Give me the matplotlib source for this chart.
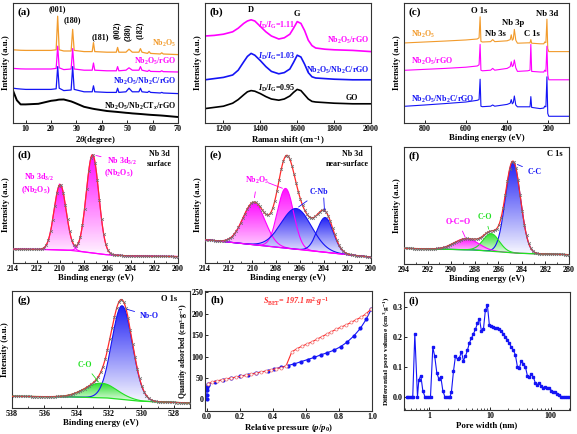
import numpy as np
import matplotlib
matplotlib.use('Agg')
import matplotlib.pyplot as plt
from matplotlib.patches import Polygon
from matplotlib.colors import LinearSegmentedColormap
from matplotlib.ticker import MultipleLocator, NullLocator, LogLocator, NullFormatter

# ---------------- data ----------------
# (a) XRD, arbitrary stacked intensity
xrd_x = [5, 6.5, 8, 10, 15, 20, 22.0, 22.6, 23.2, 25, 27.9, 28.5, 29.1, 33, 36.2, 36.7, 37.2, 42,
         45.7, 46.2, 46.7, 49.5, 50.7, 52, 54.6, 55.2, 55.8, 58, 58.6, 59.2, 63, 63.6, 64.2, 70]
xrd_nb2o5 = [61, 60.8, 60.6, 60.5, 60.5, 60.5, 61, 89, 61, 60, 60, 78, 60.5, 59.5, 59.5, 67, 59.5, 59,
             59, 63, 59, 59, 61.5, 59, 59, 62, 59, 58, 59.5, 58, 57.5, 58.5, 57.5, 57]
xrd_rgo = [45.5, 45.3, 45.1, 45, 45, 45, 45.5, 64, 46, 44.5, 45, 62, 45, 44, 44, 50, 44, 43.5,
           43.5, 47, 43.5, 44, 46, 44, 44, 47, 44, 43, 44, 43, 42.8, 43.5, 42.8, 42.5]
xrd_nb2c = [29, 28.6, 28.3, 28, 28, 28, 28.5, 47, 29, 27, 27.5, 47, 28, 26, 26, 31, 26, 25.5,
            25.5, 29, 25.5, 26, 29, 26, 26, 29, 26, 25.5, 26.5, 25.5, 25, 25.5, 25, 24.5]
xrd_ctx = [27, 19, 15.5, 15.5, 16, 18.5, 19, 19.3, 19.5, 19.6, 18, 17.5, 17, 13.5, 12, 11.8, 11.6, 10,
           9.3, 9.2, 9.1, 8.5, 8.3, 8, 7.6, 7.5, 7.4, 7, 6.9, 6.8, 6.3, 6.2, 6.1, 5]
hkl_labels = ['(001)', '(180)', '(181)', '(002)', '(380)', '(182)']
hkl_pos = [(22.4, 95), (28.5, 86), (39.3, 71.5), (45.9, 77), (50.3, 76), (54.9, 77)]

# (b) Raman
raman_x = [1100, 1150, 1200, 1250, 1280, 1310, 1330, 1350, 1370, 1400, 1430, 1460, 1500, 1530,
           1560, 1580, 1600, 1620, 1640, 1660, 1680, 1700, 1750, 1800, 1900, 2000]
raman_rgo = [72.5, 73, 74, 76, 79, 83, 85, 86, 85, 80.5, 76, 72.5, 70, 71, 74, 79, 84.5, 83, 77, 69,
             64.5, 62.5, 61.5, 61, 60.5, 59.5]
raman_nb2c = [36, 37, 38, 40, 44, 51, 55.5, 58, 56.5, 52, 47, 43, 41, 42, 45, 50.5, 56.5, 55, 49, 42,
              38.5, 37.5, 37, 36.5, 36, 36]
raman_go = [12, 13, 14, 16.5, 19.5, 23.5, 26, 27, 26.5, 24.5, 22, 20, 19, 20, 22.5, 25.5, 28, 27,
            23.5, 20, 18, 17.5, 17, 16.5, 16, 16]
idig_text = ['1.11', '1.03', '0.95']
idig_y = [81.5, 55.5, 28.5]

# (c) XPS survey
surv_x = [900, 800, 700, 600, 545, 536, 531, 527, 520, 480, 470, 460, 400, 385, 380, 375, 370, 365,
          358, 350, 300, 289, 285, 281, 240, 222, 218, 212, 207, 203, 198, 150, 100]
surv_nb2o5 = [66.7, 67.5, 68.3, 69.2, 70, 71, 88.5, 68, 67.5, 67.8, 69.5, 67.8, 68.5, 69.5, 73.5, 69,
              70, 78, 69, 66.5, 66.8, 66.8, 69.5, 66.5, 66, 66, 67.5, 67, 86.5, 62, 59.5, 59.5, 59.5]
surv_rgo = [43.9, 44.7, 45.5, 46.5, 47.5, 48.5, 65.5, 44, 43.5, 44, 45.5, 44, 45.5, 47, 51, 47, 48,
            52.5, 46, 43, 43.5, 44, 65.5, 43, 42.5, 42.5, 44, 43, 64, 40, 36, 36, 36]
surv_nb2c = [13.9, 15, 16.2, 17.5, 18.9, 19.5, 36.5, 14, 13.6, 14, 15, 14, 15.5, 16.5, 19.5, 16, 17,
             22.5, 15, 13.5, 13.5, 13.5, 22, 13, 12, 12.5, 14, 13.5, 38.5, 8, 5.6, 5.6, 5.6]
surv_peaks = ['O 1s', 'Nb 3s', 'Nb 3p', 'C 1s', 'Nb 3d']
surv_peak_pos = [(534, 93.5), (457, 74.5), (373, 83), (281, 74.5), (207, 90.5)]

# (d) Nb 3d surface fit
d_bg_x = [200, 204, 206, 208, 209, 211, 214]
d_bg_y = [5.5, 6, 7, 9.5, 10.8, 11.5, 11.9]
d_cen = [210.0, 207.25]
d_hgt = [56, 84]
d_fwhm = [1.2, 1.25]

# (e) Nb 3d near-surface fit
e_bg_x = [200, 207, 214]
e_bg_y = [5, 12.5, 20]
e_cen = [209.87, 207.2, 206.3, 203.86]
e_hgt = [35.8, 51, 34.8, 29.7]
e_fwhm = [2.2, 1.6, 3.0, 1.6]

# (f) C 1s fit
f_bg_x = [280, 282, 284, 286, 288, 290, 294]
f_bg_y = [8, 8.5, 9, 10.5, 12, 12.5, 13.4]
f_cen = [284.75, 286.6, 288.7]
f_hgt = [78, 15, 9.5]
f_fwhm = [1.5, 1.6, 2.4]

# (g) O 1s fit
g_bg_x = [527, 530, 532, 534, 538]
g_bg_y = [4.3, 5.7, 8.5, 9.4, 10]
g_cen = [531.2, 532.5]
g_hgt = [80, 12.5]
g_fwhm = [1.5, 2.3]

# (h) N2 isotherm
ads_p = [0.0, 0.001, 0.002, 0.004, 0.007, 0.01, 0.05, 0.1, 0.15, 0.2, 0.25, 0.3, 0.37, 0.41, 0.45,
         0.49, 0.53, 0.57, 0.61, 0.65, 0.69, 0.73, 0.77, 0.81, 0.85, 0.89, 0.93, 0.965, 0.995]
ads_q = [0, 10, 22, 30, 34, 36, 41, 46, 50, 54, 58, 62, 67, 71, 75, 79, 83, 88, 93, 98, 104, 109,
         115, 123, 134, 148, 166, 187, 210]
des_p = [0.995, 0.965, 0.935, 0.905, 0.875, 0.845, 0.815, 0.785, 0.755, 0.725, 0.695, 0.665, 0.635,
         0.605, 0.575, 0.545, 0.515, 0.48, 0.45, 0.42, 0.39, 0.36, 0.33, 0.3, 0.27, 0.24, 0.21, 0.18,
         0.15, 0.12, 0.09, 0.06, 0.03, 0.01]
des_q = [211, 200, 192, 186, 180, 174, 169, 164, 158, 152, 146, 140, 134, 129, 124, 118, 111, 78, 74,
         72, 69, 66, 64, 61, 59, 56, 54, 52, 50, 48, 45.5, 43, 40, 37]

# (i) pore size distribution
pore_w = [0.42, 0.45, 0.48, 0.51, 0.53, 0.573, 0.634, 0.667, 0.72, 0.776, 0.84, 0.9, 0.97, 1.04,
          1.135, 1.22, 1.32, 1.42, 1.54, 1.66, 1.79, 1.93, 2.08, 2.19, 2.3, 2.49, 2.68, 2.9, 3.12,
          3.37, 3.63, 3.92, 4.23, 4.56, 4.92, 5.31, 5.73, 6.18, 6.67, 7.19, 7.76, 8.37, 9.03, 9.74,
          10.5, 11.3, 12.2, 13.2, 14.2, 15.4, 16.6, 17.9, 19.3, 20.8, 22.5, 24.2, 26.1, 28.2, 30.4,
          32.8, 35.4, 38.2, 41.2, 44.5, 48, 51.8, 55.8, 60.3, 65, 70.2, 75.7, 81.7, 88.1, 95, 102.6,
          110.7, 119.4, 128.8, 139, 150, 162, 175, 188, 202]
pore_v = [0, 0, 0, 0, 0, 0.21, 0, 0.055, 0.07, 0.02, 0, 0, 0, 0, 0.165, 0.135, 0.08, 0.06, 0.065,
          0.02, 0, 0, 0, 0, 0.015, 0.085, 0.135, 0.125, 0.13, 0.15, 0.12, 0.135, 0.155, 0.18, 0.195,
          0.21, 0.225, 0.245, 0.26, 0.22, 0.225, 0.29, 0.305, 0.238, 0.237, 0.234, 0.23, 0.23, 0.225,
          0.218, 0.21, 0.2, 0.19, 0.178, 0.165, 0.155, 0.14, 0.1, 0.095, 0.12, 0.11, 0.1, 0.07, 0.065,
          0.075, 0.065, 0.045, 0.04, 0.047, 0.035, 0.03, 0.033, 0.028, 0.03, 0.02, 0.015, 0.015, 0.01,
          0.005, 0, 0, 0, 0, 0]

# ---------------- style ----------------
ORANGE = '#F29B2C'
MAG = '#FF00FF'
BLUE = '#1414F5'
GREEN = '#22E022'
RED = '#FF2A2A'
GRAY = '#707070'

plt.rcParams.update({
    'font.family': 'Liberation Serif', 'font.weight': 'bold', 'font.size': 5.6,
    'axes.labelweight': 'bold', 'axes.labelsize': 6.3, 'axes.linewidth': 0.8,
    'axes.edgecolor': '#333333',
    'mathtext.fontset': 'custom', 'mathtext.rm': 'Liberation Serif:bold',
    'mathtext.it': 'Liberation Serif:italic:bold', 'mathtext.bf': 'Liberation Serif:bold',
    'xtick.direction': 'in', 'ytick.direction': 'in',
    'xtick.major.size': 2.5, 'ytick.major.size': 2.5, 'xtick.minor.size': 1.5,
    'ytick.minor.size': 1.5, 'xtick.major.width': 0.6, 'ytick.major.width': 0.6,
    'xtick.minor.width': 0.5, 'ytick.minor.width': 0.5,
    'xtick.labelsize': 5.8, 'ytick.labelsize': 5.8,
    'xtick.major.pad': 1.5, 'ytick.major.pad': 1.2,
})

W, H = 577, 434
fig = plt.figure(figsize=(W / 100, H / 100), dpi=100)


def mk(l, r, t, b):
    return fig.add_axes([l / W, 1 - b / H, (r - l) / W, (b - t) / H])


def no_y(ax):
    ax.yaxis.set_major_locator(NullLocator())
    ax.set_ylabel('Intensity (a.u.)', labelpad=2)


def tag(ax, s):
    ax.text(0.03, 0.965, s, transform=ax.transAxes, fontsize=8, va='top', ha='left')


def grad_fill(ax, x, base, top, color):
    verts = np.column_stack([np.r_[x, x[::-1]], np.r_[top, base[::-1]]])
    poly = Polygon(verts, closed=True, facecolor='none', edgecolor='none')
    ax.add_patch(poly)
    cmap = LinearSegmentedColormap.from_list('g', ['#ffffff', color])
    grad = np.linspace(0.02, 1, 120).reshape(-1, 1)
    im = ax.imshow(grad, cmap=cmap, vmin=0, vmax=1, aspect='auto', origin='lower',
                   extent=[x.min(), x.max(), base.min(), top.max()], zorder=1, alpha=0.95)
    im.set_clip_path(poly)


def xps(ax, lo, hi, bgx, bgy, cen, hgt, fw, cols, bgcol):
    e = np.linspace(lo, hi, 700)
    bg = np.interp(e, bgx, bgy)
    comps = [h * np.exp(-4 * np.log(2) * ((e - c) / w) ** 2) for c, h, w in zip(cen, hgt, fw)]
    for comp, col in zip(comps, cols):
        grad_fill(ax, e, bg, bg + comp, col)
    for comp, col in zip(comps, cols):
        ax.plot(e, bg + comp, color=col, lw=0.8, zorder=3)
    env = bg + np.sum(comps, axis=0)
    ax.plot(e, bg, color=bgcol, lw=0.9, zorder=3)
    ax.plot(e, env, color=RED, lw=0.9, zorder=4)
    ax.plot(e[::9], env[::9], 'x', color=GRAY, ms=2.0, mew=0.5, zorder=5)
    ax.set_xlim(hi, lo)
    ax.set_ylim(0, 100)
    ax.xaxis.set_major_locator(MultipleLocator(2))
    ax.xaxis.set_minor_locator(MultipleLocator(1))
    ax.set_xlabel('Binding energy (eV)', labelpad=1)
    no_y(ax)


def note(ax, s, xy, xytext, col, ha='center'):
    ax.annotate(s, xy=xy, xytext=xytext, color=col, ha=ha, va='center', fontsize=5.8,
                arrowprops=dict(arrowstyle='-', color=col, lw=0.6), zorder=6)


# ---------------- (a) XRD ----------------
ax = mk(13, 178, 3, 123)
for y, c, lw in [(xrd_nb2o5, ORANGE, 0.9), (xrd_rgo, MAG, 0.9), (xrd_nb2c, BLUE, 0.9),
                 (xrd_ctx, 'black', 1.4)]:
    ax.plot(xrd_x, y, color=c, lw=lw)
for s, (x, y) in zip(hkl_labels, hkl_pos):
    rot = 90 if x > 44 else 0
    ax.text(x, y, s, ha='center', va='center', rotation=rot, fontsize=5.8)
ax.text(69.3, 66, r'Nb$_2$O$_5$', color=ORANGE, ha='right', va='center', fontsize=5.8)
ax.text(69.3, 51.5, r'Nb$_2$O$_5$/rGO', color=MAG, ha='right', va='center', fontsize=5.8)
ax.text(69.3, 34.5, r'Nb$_2$O$_5$/Nb$_2$C/rGO', color=BLUE, ha='right', va='center', fontsize=5.8)
ax.text(69.3, 14, r'Nb$_2$O$_5$/Nb$_2$CT$_x$/rGO', color='black', ha='right', va='center',
        fontsize=5.8)
ax.set_xlim(5, 70)
ax.set_ylim(0, 100)
ax.xaxis.set_major_locator(MultipleLocator(10))
ax.set_xlabel(r'2$\mathit{\theta}$(degree)', labelpad=1)
no_y(ax)
tag(ax, '(a)')

# ---------------- (b) Raman ----------------
ax = mk(205, 371, 3, 123)
ax.plot(raman_x, raman_rgo, color=MAG, lw=1.2)
ax.plot(raman_x, raman_nb2c, color=BLUE, lw=1.2)
ax.plot(raman_x, raman_go, color='black', lw=1.2)
ax.text(1346, 94, 'D', ha='center', va='center', fontsize=6)
ax.text(1598, 91, 'G', ha='center', va='center', fontsize=6)
for t, y, c in zip(idig_text, idig_y, [MAG, BLUE, 'black']):
    ax.text(1385, y, r'$I_{\rm D}$/$I_{\rm G}$=' + t, color=c, ha='left', va='center', fontsize=5.8)
ax.text(1990, 68.5, r'Nb$_2$O$_5$/rGO', color=MAG, ha='right', va='center', fontsize=5.8)
ax.text(1990, 43.5, r'Nb$_2$O$_5$/Nb$_2$C/rGO', color=BLUE, ha='right', va='center', fontsize=5.8)
ax.text(1898, 20.5, 'GO', color='black', ha='center', va='center', fontsize=5.8)
ax.set_xlim(1100, 2000)
ax.set_ylim(0, 100)
ax.xaxis.set_major_locator(MultipleLocator(200))
ax.set_xlabel(r'Raman shift (cm$^{-1}$)', labelpad=1)
no_y(ax)
tag(ax, '(b)')

# ---------------- (c) survey ----------------
ax = mk(404, 569, 3, 123)
ax.plot(surv_x, surv_nb2o5, color=ORANGE, lw=0.8)
ax.plot(surv_x, surv_rgo, color=MAG, lw=0.8)
ax.plot(surv_x, surv_nb2c, color=BLUE, lw=0.8)
for s, (x, y) in zip(surv_peaks, surv_peak_pos):
    ax.text(x, y, s, ha='center', va='center', fontsize=6.2)
ax.text(866, 73.5, r'Nb$_2$O$_5$', color=ORANGE, ha='left', va='center', fontsize=5.8)
ax.text(866, 51.5, r'Nb$_2$O$_5$/rGO', color=MAG, ha='left', va='center', fontsize=5.8)
ax.text(866, 20, r'Nb$_2$O$_5$/Nb$_2$C/rGO', color=BLUE, ha='left', va='center', fontsize=5.8)
ax.set_xlim(900, 100)
ax.set_ylim(0, 100)
ax.xaxis.set_major_locator(MultipleLocator(200))
ax.set_xlabel('Binding energy (eV)', labelpad=1)
no_y(ax)
tag(ax, '(c)')

# ---------------- (d) Nb 3d surface ----------------
ax = mk(13, 178, 146, 263)
xps(ax, 200, 214, d_bg_x, d_bg_y, d_cen, d_hgt, d_fwhm, [MAG, MAG], MAG)
ax.text(201.6, 93.5, 'Nb 3d', ha='center', va='center', fontsize=5.8)
ax.text(201.6, 84.5, 'surface', ha='center', va='center', fontsize=5.8)
note(ax, r'Nb 3d$_{3/2}$', (210.05, 67.5), (211.8, 73.3), MAG)
ax.text(212.1, 62.5, r'(Nb$_2$O$_5$)', color=MAG, ha='center', va='center', fontsize=5.8)
note(ax, r'Nb 3d$_{5/2}$', (207.2, 92.5), (204.8, 86.6), MAG)
ax.text(205.0, 76.7, r'(Nb$_2$O$_5$)', color=MAG, ha='center', va='center', fontsize=5.8)
tag(ax, '(d)')

# ---------------- (e) Nb 3d near-surface ----------------
ax = mk(205, 371, 146, 263)
xps(ax, 200, 214, e_bg_x, e_bg_y, e_cen, e_hgt, e_fwhm, [MAG, MAG, BLUE, BLUE], MAG)
ax.text(201.6, 93.5, 'Nb 3d', ha='center', va='center', fontsize=5.8)
ax.text(202.0, 84.5, 'near-surface', ha='center', va='center', fontsize=5.8)
note(ax, r'Nb$_2$O$_5$', (209.87, 53.5), (209.6, 70.3), MAG)
ax.annotate('', xy=(207.25, 63), xytext=(208.9, 69.5),
            arrowprops=dict(arrowstyle='-', color=MAG, lw=0.6))
note(ax, 'C-Nb', (206.3, 46.5), (204.4, 60.3), BLUE)
ax.annotate('', xy=(203.9, 41), xytext=(204.0, 58),
            arrowprops=dict(arrowstyle='-|>', color=BLUE, lw=0.6, mutation_scale=4))
tag(ax, '(e)')

# ---------------- (f) C 1s ----------------
ax = mk(404, 569, 147, 264)
xps(ax, 280, 294, f_bg_x, f_bg_y, f_cen, f_hgt, f_fwhm, [BLUE, GREEN, MAG], GREEN)
ax.text(281.2, 94, 'C 1s', ha='center', va='center', fontsize=6)
note(ax, 'C-C', (284.6, 86), (282.9, 78.7), BLUE)
note(ax, 'C-O', (286.75, 27.5), (287.1, 40.3), GREEN)
note(ax, 'O-C=O', (288.7, 20.5), (289.4, 36.1), MAG)
tag(ax, '(f)')

# ---------------- (g) O 1s ----------------
ax = mk(12, 190, 291, 408)
xps(ax, 527, 538, g_bg_x, g_bg_y, g_cen, g_hgt, g_fwhm, [BLUE, GREEN], GREEN)
ax.text(528.3, 93.5, 'O 1s', ha='center', va='center', fontsize=6)
note(ax, 'Nb-O', (531.05, 85), (529.5, 78.7), BLUE)
note(ax, 'C-O', (532.55, 20.5), (533.5, 36.9), GREEN)
tag(ax, '(g)')

# ---------------- (h) isotherm ----------------
ax = mk(205, 372, 291, 411)
ax.plot(ads_p, ads_q, '-o', color=BLUE, lw=0.8, ms=2.0, mfc=BLUE, mec=BLUE)
ax.plot(des_p, des_q, '-o', color=RED, lw=0.8, ms=2.2, mfc='white', mec='#F07070', mew=0.5)
ax.text(0.34, 228, r'$S_{\rm BET}$= 197.1 m$^2$$\cdot$g$^{-1}$', color=RED, ha='left',
        va='center', fontsize=5.8, style='italic')
ax.set_xlim(-0.01, 1.0)
ax.set_ylim(-27, 253)
ax.xaxis.set_major_locator(MultipleLocator(0.2))
ax.yaxis.set_major_locator(MultipleLocator(50))
ax.xaxis.set_major_formatter(matplotlib.ticker.FormatStrFormatter('%.1f'))
ax.set_xlabel(r'Relative pressure ($p$/$p_0$)', labelpad=1)
ax.set_ylabel(r'Quantity adsorbed (cm$^3$$\cdot$g$^{-1}$)', labelpad=1, fontsize=5.6)
tag(ax, '(h)')

# ---------------- (i) pore size ----------------
ax = mk(404, 570, 292, 410)
ax.plot(pore_w, pore_v, '-s', color=BLUE, lw=0.8, ms=1.8)
ax.set_xscale('log')
ax.set_xlim(0.38, 208)
ax.set_ylim(-0.045, 0.35)
ax.xaxis.set_major_locator(LogLocator(base=10))
ax.xaxis.set_minor_locator(LogLocator(base=10, subs=np.arange(2, 10)))
ax.xaxis.set_minor_formatter(NullFormatter())
ax.xaxis.set_major_formatter(matplotlib.ticker.FuncFormatter(lambda v, p: '%g' % v))
ax.yaxis.set_major_locator(MultipleLocator(0.1))
ax.yaxis.set_major_formatter(matplotlib.ticker.FormatStrFormatter('%.1f'))
ax.set_xlabel('Pore width (nm)', labelpad=1)
ax.set_ylabel(r'Differential pore volume (cm$^3$$\cdot$g$^{-1}$)', labelpad=1, fontsize=5.3)
tag(ax, '(i)')

fig.savefig('out.png', dpi=100)
